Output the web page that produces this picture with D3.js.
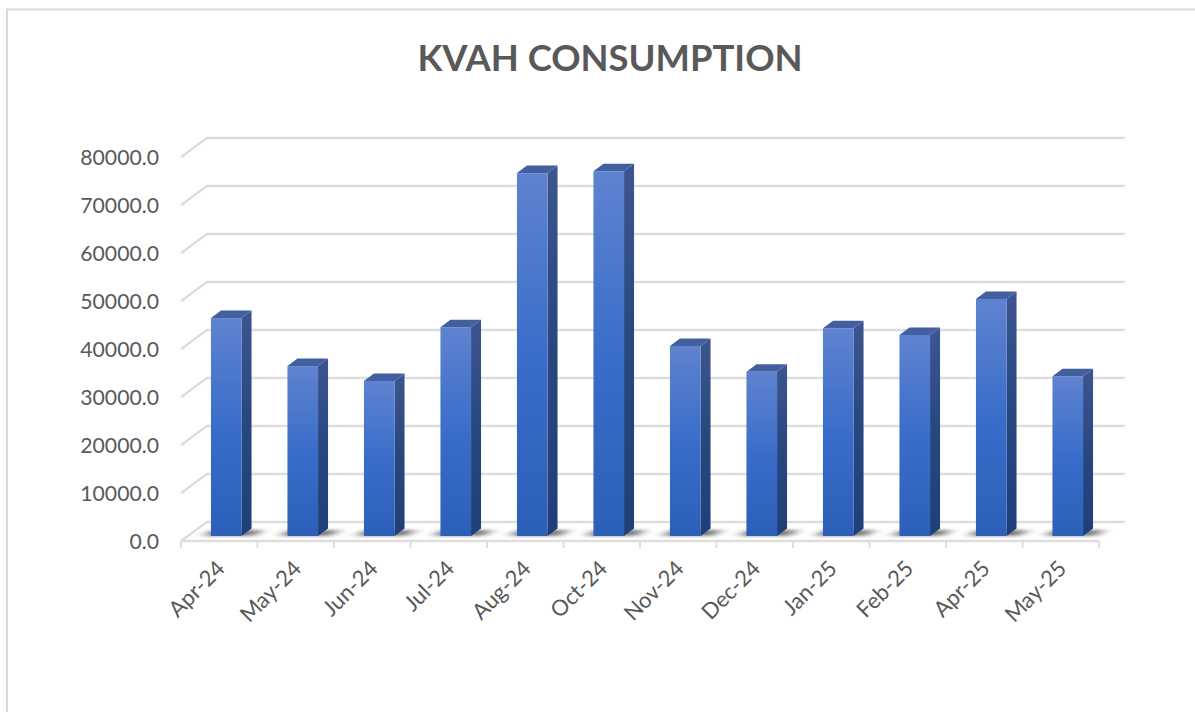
<!DOCTYPE html>
<html>
<head>
<meta charset="utf-8">
<script src="https://cdn.jsdelivr.net/npm/d3@7"></script>
<style>
  html, body { margin: 0; padding: 0; background: #fff; }
  svg { display: block; }
  text { font-family: Lato, "Open Sans", sans-serif; }
</style>
</head>
<body>
<div id="chart"></div>
<script>
const months = ['Apr-24','May-24','Jun-24','Jul-24','Aug-24','Oct-24','Nov-24','Dec-24','Jan-25','Feb-25','Apr-25','May-25'];
const kvah = [45400,35400,32300,43500,75600,76000,39600,34200,43300,41900,49400,33300];
const yTicks = [0,10000,20000,30000,40000,50000,60000,70000,80000];
const titleText = 'KVAH CONSUMPTION';

const width = 1195, height = 712;

// front plane of the fake 3d box
const x = d3.scaleBand().domain(months).range([181, 1099]).paddingInner(0.6).paddingOuter(0.3);
const xEdge = d3.scaleBand().domain(months).range([181, 1099]);
const y = d3.scaleLinear().domain([0, 80000]).range([541, 157]);

// wall offset, and where the bars stand inside the floor
const depthX = 26, depthY = -19;
const barShiftX = 7, barShiftY = -5;
const barDepthX = 10, barDepthY = -7.5;

const svg = d3.select('#chart').append('svg')
  .attr('width', width)
  .attr('height', height);

const defs = svg.append('defs');

function vGrad(id, stops) {
  let g = defs.append('linearGradient').attr('id', id)
    .attr('x1', 0).attr('y1', 0).attr('x2', 0).attr('y2', 1);
  stops.forEach((s) => g.append('stop').attr('offset', s[0]).attr('stop-color', s[1]));
}
vGrad('front', [[0, '#5f83cf'], [0.5, '#3a6dca'], [1, '#2c5fb8']]);
vGrad('side', [[0, '#3d5590'], [0.5, '#27477f'], [1, '#1f3f7a']]);

defs.append('filter').attr('id', 'blur')
  .attr('x', '-40%').attr('y', '-200%').attr('width', '180%').attr('height', '500%')
  .append('feGaussianBlur').attr('stdDeviation', '6 1.8');

// chart frame, only left and top show in the crop
svg.append('path')
  .attr('d', `M7,${height} V9.5 H${width}`)
  .attr('fill', 'none')
  .attr('stroke', '#d9d9d9')
  .attr('stroke-width', 2);

svg.append('text')
  .attr('x', 610)
  .attr('y', 71)
  .attr('text-anchor', 'middle')
  .attr('font-size', 36.4)
  .attr('font-weight', 700)
  .attr('fill', '#595959')
  .text(titleText);

// gridlines: side wall diagonal + back wall
const grid = svg.append('g').attr('fill', 'none').attr('stroke', '#dedede').attr('stroke-width', 2.5);
grid.selectAll('path')
  .data(yTicks)
  .enter()
  .append('path')
  .attr('d', (d) => {
    let p = d3.path();
    p.moveTo(181, y(d));
    p.lineTo(181 + depthX, y(d) + depthY);
    p.lineTo(1099 + depthX, y(d) + depthY);
    return p.toString();
  });

// floor front edge and ticks
let floorEdge = d3.path();
floorEdge.moveTo(181, y(0));
floorEdge.lineTo(1099, y(0));
svg.append('path').attr('d', floorEdge.toString()).attr('stroke', '#dedede').attr('stroke-width', 2.5).attr('fill', 'none');

svg.append('g').selectAll('line')
  .data(months.map((m) => xEdge(m)).concat([1099]))
  .enter()
  .append('line')
  .attr('x1', (d) => d).attr('x2', (d) => d)
  .attr('y1', y(0)).attr('y2', y(0) + 7)
  .attr('stroke', '#dedede').attr('stroke-width', 2);

// y labels
svg.append('g').selectAll('text')
  .data(yTicks)
  .enter()
  .append('text')
  .attr('x', 159)
  .attr('y', (d) => y(d) + 8)
  .attr('text-anchor', 'end')
  .attr('font-size', 21.2)
  .attr('fill', '#595959')
  .text((d) => d3.format('.1f')(d));

// x labels
svg.append('g').selectAll('text')
  .data(months)
  .enter()
  .append('text')
  .attr('transform', (d) => `translate(${xEdge(d) + xEdge.bandwidth() / 2 + 7},${570}) rotate(-45)`)
  .attr('text-anchor', 'end')
  .attr('font-size', 22)
  .attr('fill', '#595959')
  .text((d) => d);

// bars
const bars = svg.append('g');
const base = y(0) + barShiftY;
const h = (v) => y(0) - y(v);

// floor shadows first, soft band either side of each bar
bars.selectAll('.shadow')
  .data(months)
  .enter()
  .append('path')
  .attr('class', 'shadow')
  .attr('filter', 'url(#blur)')
  .attr('fill', '#5a5a5a')
  .attr('opacity', 0.8)
  .attr('d', (m) => {
    let l = x(m) + barShiftX;
    return `M${l - 8},${base} L${l + x.bandwidth() + 12},${base} L${l + x.bandwidth() + 22},${base - 6} L${l + 2},${base - 6} Z`;
  });

let bar = bars.selectAll('.bar')
  .data(months.map((m, i) => ({ m: m, v: kvah[i] })))
  .enter()
  .append('g')
  .attr('class', 'bar');

bar.append('path')
  .attr('fill', 'url(#side)')
  .attr('d', (d) => {
    let r = x(d.m) + barShiftX + x.bandwidth();
    let t = base - h(d.v);
    return `M${r},${t} L${r + barDepthX},${t + barDepthY} V${base + barDepthY} L${r},${base} Z`;
  });

bar.append('path')
  .attr('fill', '#42609f')
  .attr('d', (d) => {
    let l = x(d.m) + barShiftX, w = x.bandwidth();
    let t = base - h(d.v);
    return `M${l},${t} L${l + barDepthX},${t + barDepthY} H${l + w + barDepthX} L${l + w},${t} Z`;
  });

bar.append('rect')
  .attr('fill', 'url(#front)')
  .attr('x', (d) => x(d.m) + barShiftX)
  .attr('y', (d) => base - h(d.v))
  .attr('width', x.bandwidth())
  .attr('height', (d) => h(d.v));
</script>
</body>
</html>
